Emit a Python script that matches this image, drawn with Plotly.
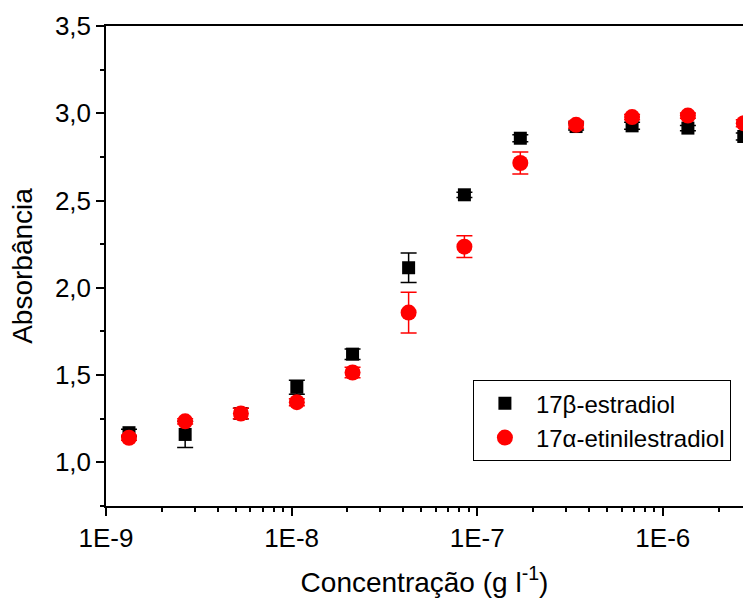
import plotly.graph_objects as go

conc = [1.33e-9, 2.67e-9, 5.33e-9, 1.067e-8, 2.13e-8, 4.27e-8, 8.53e-8,
        1.707e-7, 3.41e-7, 6.83e-7, 1.365e-6, 2.73e-6]
estradiol = [1.17, 1.16, 1.28, 1.43, 1.62, 2.115, 2.533, 2.857, 2.924, 2.928, 2.915, 2.867]
estradiol_err = [0.02, 0.075, 0.03, 0.04, 0.03, 0.085, 0.015, 0.02, 0.02, 0.02, 0.015, 0.02]
etinil = [1.141, 1.235, 1.28, 1.345, 1.515, 1.858, 2.236, 2.715, 2.934, 2.978, 2.987, 2.943]
etinil_err = [0.015, 0.015, 0.03, 0.02, 0.03, 0.117, 0.063, 0.063, 0.02, 0.015, 0.015, 0.02]

x_ticks = [1e-9, 1e-8, 1e-7, 1e-6]
x_ticklabels = ["1E-9", "1E-8", "1E-7", "1E-6"]
y_ticks = [1.0, 1.5, 2.0, 2.5, 3.0, 3.5]
y_ticklabels = ["1,0", "1,5", "2,0", "2,5", "3,0", "3,5"]

FONT = "Liberation Sans, Arial, sans-serif"

fig = go.Figure()
fig.add_trace(go.Scatter(
    x=conc, y=estradiol, mode="markers", name="17β-estradiol",
    marker=dict(symbol="square", size=13, color="black"),
    error_y=dict(type="data", array=estradiol_err, color="black", thickness=1.5, width=8),
))
fig.add_trace(go.Scatter(
    x=conc, y=etinil, mode="markers", name="17α-etinilestradiol",
    marker=dict(symbol="circle", size=16, color="#ff0000"),
    error_y=dict(type="data", array=etinil_err, color="#ff0000", thickness=1.5, width=8),
))

minor_x = [m * 10.0 ** e for e in range(-10, -4) for m in range(2, 10)]

fig.update_layout(
    width=743, height=601,
    margin=dict(l=106, r=0, t=26, b=95),
    paper_bgcolor="white", plot_bgcolor="white",
    font=dict(family=FONT, size=26, color="black"),
    showlegend=True,
    legend=dict(
        x=0.576, y=0.262, xanchor="left", yanchor="top",
        bgcolor="white", bordercolor="black", borderwidth=1,
        font=dict(family=FONT, size=24, color="black"),
        itemwidth=52, tracegroupgap=0,
    ),
    xaxis=dict(
        type="log", range=[-9, -5.568], automargin=False,
        tickmode="array", tickvals=x_ticks, ticktext=x_ticklabels,
        ticks="outside", ticklen=8, tickwidth=1.5, tickcolor="black",
        showline=True, linecolor="black", linewidth=1.5, mirror=True,
        showgrid=False, zeroline=False,
        tickfont=dict(family=FONT, size=26),
        minor=dict(tickmode="array", tickvals=minor_x, ticks="outside",
                   ticklen=4, tickwidth=1.5, tickcolor="black", showgrid=False),
        title=dict(text="Concentração (g l<sup>-1</sup>)", font=dict(family=FONT, size=28),
                   standoff=20),
    ),
    yaxis=dict(
        range=[0.75, 3.5], automargin=False,
        tickmode="array", tickvals=y_ticks, ticktext=y_ticklabels,
        ticks="outside", ticklen=8, tickwidth=1.5, tickcolor="black",
        showline=True, linecolor="black", linewidth=1.5, mirror=False,
        showgrid=False, zeroline=False,
        tickfont=dict(family=FONT, size=26),
        minor=dict(dtick=0.25, tick0=0.75, ticks="outside", ticklen=4,
                   tickwidth=1.5, tickcolor="black", showgrid=False),
        title=dict(text="Absorbância", font=dict(family=FONT, size=28), standoff=14),
    ),
)

fig.write_html(
    "out.html",
    config={"displayModeBar": False},
    post_script="document.body.style.margin='0';document.body.style.overflow='hidden';",
)
